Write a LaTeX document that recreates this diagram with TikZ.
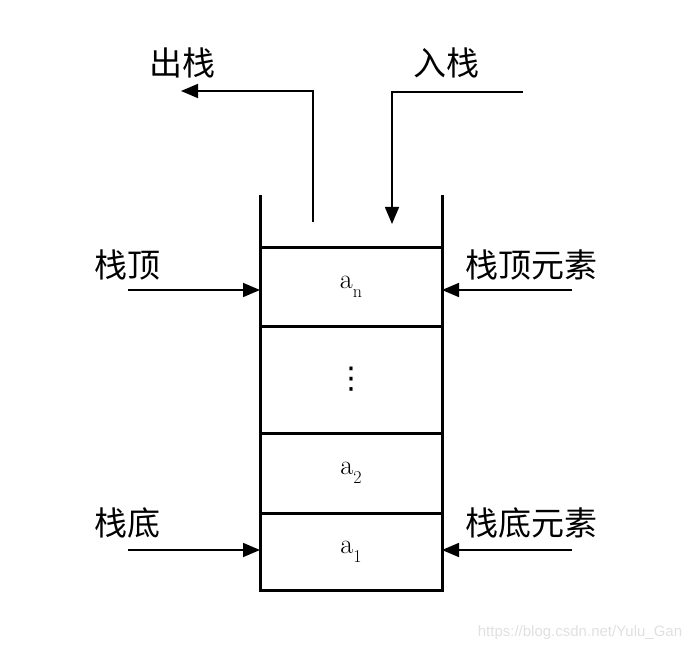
\documentclass[tikz,border=0pt]{standalone}
\usepackage{fontspec}
\newfontfamily\cjk{Noto Sans CJK SC}
\newfontfamily\wm{Liberation Sans}
\newfontfamily\dv{DejaVu Sans}
\usetikzlibrary{arrows.meta}
\newcommand{\cellsub}[2]{#1\raisebox{-9pt}{\fontsize{18}{18}\selectfont #2}}
\begin{document}
\begin{tikzpicture}[x=1pt,y=-1pt,
  cell/.style={draw,line width=3pt,outer sep=0pt,minimum width=182pt,inner sep=0pt,anchor=north,font=\fontsize{28}{28}\selectfont},
  lbl/.style={inner sep=0pt,font=\cjk\fontsize{33}{33}\selectfont},
  arr/.style={line width=1.6pt,-{Triangle[length=17pt,width=14pt]}},
  wall/.style={line width=3pt}]
\useasboundingbox (0,0) rectangle (696,652);
\node[cell,minimum height=78pt] (cn) at (351,248) {\cellsub{a}{n}};
\node[cell,minimum height=107pt] (cd) at (351,326) {\dv\fontsize{30}{30}\selectfont ⋮};
\node[cell,minimum height=80pt] (c2) at (351,433) {\cellsub{a}{2}};
\node[cell,minimum height=77pt] (c1) at (351,513) {\cellsub{a}{1}};
\coordinate (lt) at (260,195);
\coordinate (rt) at (442,195);
\draw[wall] (lt) -- (lt |- cn.north);
\draw[wall] (rt) -- (rt |- cn.north);
% labels
\node[lbl] (out) at (182,63) {出栈};
\node[lbl] (in) at (446,63) {入栈};
\node[lbl] (top) at (127,265) {栈顶};
\node[lbl] (topel) at (531,265) {栈顶元素};
\node[lbl] (bot) at (127,523) {栈底};
\node[lbl] (botel) at (531,523) {栈底元素};
% arrows
\coordinate (os) at (313,222);
\coordinate (oe) at (181,91);
\draw[arr] (os) |- (oe);
\coordinate (is) at (523,92);
\coordinate (ie) at (392,224);
\draw[arr] (is) -| (ie);
\coordinate (ts) at (128,290);
\draw[arr] (ts) -- (ts -| cn.west);
\coordinate (tes) at (572,290);
\draw[arr] (tes) -- (tes -| cn.east);
\coordinate (bs) at (128,550);
\draw[arr] (bs) -- (bs -| c1.west);
\coordinate (bes) at (572,550);
\draw[arr] (bes) -- (bes -| c1.east);
\node[inner sep=0pt,text=black!12,font=\wm\fontsize{15}{15}\selectfont] (wmk) at (580,633) {https://blog.csdn.net/Yulu\_Gan};
\end{tikzpicture}
\end{document}
